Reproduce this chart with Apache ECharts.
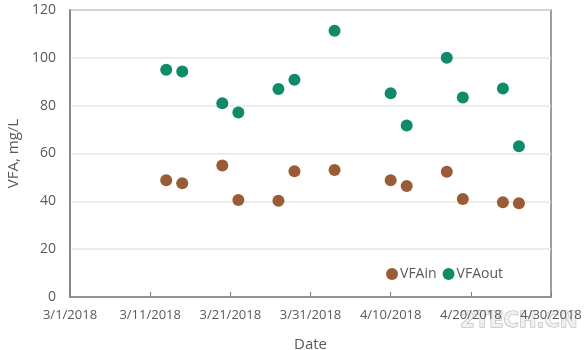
<!doctype html>
<html>
<head>
    <meta charset="utf-8">
    <script src="https://cdn.jsdelivr.net/npm/echarts@6/dist/echarts.min.js"></script>
    <style>
        body { margin: 0; background: #fff; }
        #chart { width: 586px; height: 350px; }
    </style>
</head>
<body>
<div id="chart"></div>
<script type="text/javascript">
    // sampling dates
    var dates = ['2018-03-13', '2018-03-15', '2018-03-20', '2018-03-22', '2018-03-27', '2018-03-29',
        '2018-04-03', '2018-04-10', '2018-04-12', '2018-04-17', '2018-04-19', '2018-04-24', '2018-04-26'];
    var vfaIn = [48.8, 47.6, 55, 40.6, 40.2, 52.6, 53.1, 48.8, 46.4, 52.4, 41, 39.6, 39.2];
    var vfaOut = [95, 94.3, 81, 77.1, 87, 90.8, 111.3, 85.2, 71.7, 100, 83.4, 87.2, 63];
    var xTicks = ['3/1/2018', '3/11/2018', '3/21/2018', '3/31/2018', '4/10/2018', '4/20/2018', '4/30/2018'];

    var start = Date.UTC(2018, 2, 1);
    function dayOf(s) {
        var p = s.split('-');
        return (Date.UTC(+p[0], +p[1] - 1, +p[2]) - start) / 86400000;
    }
    function pairs(vals) {
        return vals.map(function (v, i) { return [dayOf(dates[i]), v]; });
    }

    var chart = echarts.init(document.getElementById('chart'));
    var txt = '#595959';
    chart.setOption({
        animation: false,
        textStyle: { fontFamily: 'Open Sans' },
        grid: { left: 70, right: 35, top: 10, bottom: 53, outerBoundsMode: 'none', show: true, borderColor: '#7f7f7f', borderWidth: 1.5 },
        legend: {
            right: 78, top: 262, itemWidth: 12, itemHeight: 12, itemGap: 6,
            textStyle: { fontSize: 14, color: txt, padding: [0, 0, 0, -3] },
            data: [{ name: 'VFAin', icon: 'circle' }, { name: 'VFAout', icon: 'circle' }]
        },
        xAxis: {
            type: 'value', min: 0, max: 60, interval: 10,
            name: 'Date', nameLocation: 'middle', nameGap: 40,
            nameTextStyle: { fontSize: 15, color: txt },
            axisLine: { lineStyle: { color: '#7f7f7f', width: 1.5 } },
            axisTick: { show: true, inside: true, length: 5, lineStyle: { color: '#7f7f7f' } },
            splitLine: { show: false },
            axisLabel: {
                fontSize: 13, color: txt, margin: 12,
                formatter: function (v) { return xTicks[v / 10]; }
            }
        },
        yAxis: {
            type: 'value', min: 0, max: 120, interval: 20,
            name: 'VFA, mg/L', nameLocation: 'middle', nameGap: 44,
            nameTextStyle: { fontSize: 15, color: txt },
            axisLine: { show: true, lineStyle: { color: '#7f7f7f', width: 1.5 } },
            axisTick: { show: false },
            splitLine: { lineStyle: { color: '#e6e6e6', width: 1.5 } },
            axisLabel: { fontSize: 14, color: txt, margin: 14 }
        },
        series: [
            { name: 'VFAin', type: 'scatter', symbolSize: 12, itemStyle: { color: '#9a5c36', opacity: 1 }, data: pairs(vfaIn) },
            { name: 'VFAout', type: 'scatter', symbolSize: 12, itemStyle: { color: '#0f8a6b', opacity: 1 }, data: pairs(vfaOut) }
        ],
        graphic: [{
            type: 'text', right: 8, top: 311,
            style: { text: '2TECH.CN', fontSize: 21, fontWeight: 'bold', fill: '#f0f0f0', stroke: '#aaaaaa', lineWidth: 1, fontFamily: 'DejaVu Sans' }
        }]
    });
</script>
</body>
</html>
